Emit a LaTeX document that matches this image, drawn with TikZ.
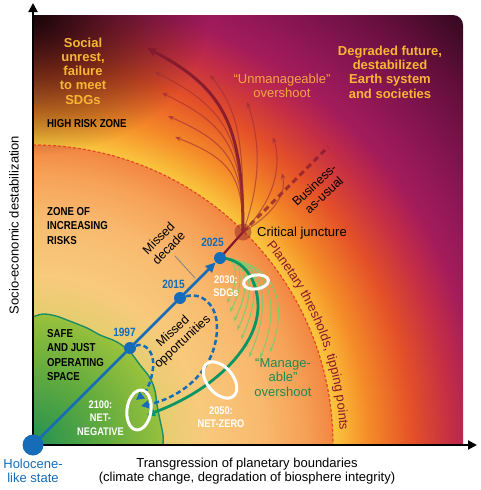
\documentclass[tikz,border=0pt]{standalone}
\usepackage{fontspec}
\setmainfont{Liberation Sans}
\newfontfamily\condf[FakeStretch=0.84]{Liberation Sans}
\usetikzlibrary{arrows.meta,decorations.text,fadings,shapes.geometric}

\definecolor{blueC}{RGB}{22,108,182}
\definecolor{yellowL}{RGB}{247,182,54}
\definecolor{unmC}{RGB}{243,165,70}
\definecolor{manC}{RGB}{30,140,80}
\definecolor{plC}{RGB}{140,22,45}
\definecolor{redfan}{RGB}{160,45,55}
\definecolor{redthick}{RGB}{130,25,45}
\definecolor{gthickC}{RGB}{10,150,100}
\definecolor{gthinC}{RGB}{135,200,110}
\definecolor{gbound}{RGB}{30,140,100}
\definecolor{arcC}{RGB}{228,72,40}
\definecolor{vigc}{RGB}{25,5,8}
\definecolor{cjC}{RGB}{150,40,40}

\definecolor{o1}{RGB}{250,198,62}
\definecolor{o2}{RGB}{245,140,40}
\definecolor{o3}{RGB}{228,80,40}
\definecolor{o4}{RGB}{195,45,70}
\definecolor{o5}{RGB}{165,28,90}
\definecolor{o6}{RGB}{140,22,85}
\definecolor{o7}{RGB}{100,15,60}
\definecolor{o8}{RGB}{50,8,30}
\pgfdeclareradialshading{outsh}{\pgfpointorigin}{color(0bp)=(o1); color(12.1bp)=(o1); color(13.5bp)=(o2); color(15.3bp)=(o3); color(16.9bp)=(o4); color(18.1bp)=(o5); color(19.75bp)=(o6); color(22.2bp)=(o7); color(24.6bp)=(o8); color(50bp)=(o8)}

\definecolor{i0}{RGB}{175,200,80}
\definecolor{i1}{RGB}{214,208,102}
\definecolor{i2}{RGB}{248,202,124}
\definecolor{i3}{RGB}{248,185,110}
\definecolor{i4}{RGB}{246,162,88}
\definecolor{i5}{RGB}{242,135,65}
\pgfdeclareradialshading{insh}{\pgfpointorigin}{color(0bp)=(i0); color(8.3bp)=(i1); color(14.2bp)=(i2); color(19.2bp)=(i3); color(22.5bp)=(i4); color(25bp)=(i5); color(50bp)=(i5)}

\definecolor{g0}{RGB}{35,145,80}
\definecolor{g1}{RGB}{100,172,62}
\definecolor{g2}{RGB}{170,200,60}
\pgfdeclareradialshading{grsh}{\pgfpointorigin}{color(0bp)=(g0); color(12.5bp)=(g1); color(25bp)=(g2); color(50bp)=(g2)}

\tikzfading[name=vig, inner color=transparent!0, outer color=transparent!100]

\pgfdeclarelayer{back}
\pgfdeclarelayer{mid}
\pgfsetlayers{back,mid,main}

\begin{document}
\begin{tikzpicture}[x=1pt,y=-1pt,
  bdot/.style={circle, fill=blueC, inner sep=0pt, minimum size=12pt},
  cjdot/.style={circle, fill=cjC, fill opacity=0.5, inner sep=0pt, minimum size=17pt},
  ring/.style={ellipse, draw=white, line width=3pt, inner sep=0pt},
  axisl/.style={line width=2pt, black, -{Triangle[length=9pt,width=9pt]}},
  bline/.style={blueC, line width=2.5pt},
  bdash/.style={blueC, line width=2.5pt, dash pattern=on 5pt off 3pt, -{Triangle[length=8pt,width=8pt]}},
  gthick/.style={gthickC, line width=2.8pt, -{Triangle[length=8pt,width=8pt]}},
  gthin/.style={gthinC, line width=1pt, -{Stealth[length=5pt,width=4pt]}},
  fanthin/.style={redfan, opacity=0.6, line width=1.1pt, -{Stealth[length=6pt,width=5pt]}},
  fanthick/.style={redthick, opacity=0.9, line width=3pt, -{Stealth[length=10pt,width=9pt]}},
  redl/.style={redthick, line width=2.2pt},
  baul/.style={redthick, opacity=0.7, line width=3pt, dash pattern=on 6pt off 4pt},
  arcl/.style={arcC, line width=1.2pt, dash pattern=on 3pt off 2pt},
  leader/.style={gray, line width=0.8pt},
  ylab/.style={text=yellowL, font=\bfseries\fontsize{13}{14.3}\selectfont, align=center, inner sep=0pt},
  blk/.style={font=\condf\bfseries\fontsize{11.5}{14.3}\selectfont, align=left, anchor=west, inner sep=0pt},
  wht/.style={text=white, font=\condf\bfseries\fontsize{11}{13.5}\selectfont, align=center, inner sep=0pt},
  yr/.style={text=blueC, font=\condf\bfseries\fontsize{12}{14}\selectfont, inner sep=0pt},
  plain/.style={font=\fontsize{13}{14.5}\selectfont, align=center, inner sep=0pt},
  small/.style={font=\fontsize{12.5}{14}\selectfont, align=center, inner sep=0pt}
]
\useasboundingbox (0,0) rectangle (480,490);

% ---------- background ----------
\begin{pgfonlayer}{back}
\begin{scope}
  \clip (33,445) -- (33,15) -- (453,15) arc[start angle=90,end angle=0,radius=10pt] -- (463,445) -- cycle;
  \shade[shading=outsh] (33,445) circle (620pt);
  \shade[shading=insh] (33,445) circle (300pt);
  \fill[vigc, path fading=vig] (33,15) ellipse (175pt and 140pt);
  \begin{scope}
    \clip (33,446) -- plot[smooth,tension=0.6] coordinates {(33,317) (43,314) (56,316) (67,320) (87,328) (100,335) (117,342) (130,352) (140,365) (150,378) (155,391) (157,405) (160,420) (163,435) (163,446)} -- cycle;
    \shade[shading=grsh] (33,445) circle (150pt);
  \end{scope}
\end{scope}
\draw[gbound, line width=1.4pt] plot[smooth,tension=0.6] coordinates {(33,317) (43,314) (56,316) (67,320) (87,328) (100,335) (117,342) (130,352) (140,365) (150,378) (155,391) (157,405) (160,420) (163,435) (163,445)};
\draw[arcl] (33,445) ++(90:300pt) arc[start angle=90,end angle=0,radius=300pt];
\path[decorate, decoration={text along path, text color=plC,
   text={|\fontsize{13}{15}\selectfont|Planetary thresholds, tipping points}}]
   (33,445) ++(40.5:307pt) arc[start angle=40.5,end angle=0,radius=307pt];
\end{pgfonlayer}

% ---------- axes ----------
\coordinate (O) at (33,445);
\coordinate (ytop) at (33,3);
\coordinate (xend) at (477,445);
\draw[axisl] (O) -- (ytop);
\draw[axisl] (O) -- (xend);

% ---------- dots ----------
\node[bdot, minimum size=21pt] (hol) at (33,445) {};
\node[bdot] (d97) at (130,348) {};
\node[bdot] (d15) at (180,298) {};
\node[bdot] (d25) at (220,258) {};
\node[cjdot] (cj) at (243,232) {};

% rings
\node[ring, minimum width=24pt, minimum height=40pt, rotate=-8] (r2100) at (139,410) {};
\node[ring, minimum width=26pt, minimum height=42pt, rotate=40] (r2050) at (220,380) {};
\node[ring, minimum width=25pt, minimum height=14pt, rotate=8] (r2030) at (256,282) {};

% ---------- trajectories ----------
\begin{pgfonlayer}{mid}
\draw[bline] (hol.center) -- (d15.center);
\draw[bline, -{Triangle[length=10pt,width=9pt]}] (d15.center) -- (d25);
\draw[redl] (d25.center) -- (cj.center);
\coordinate (baue) at (328,147);
\draw[baul] (cj.center) -- (baue);

% red fan
\coordinate (f0) at (147,48);
\draw[fanthick] (cj.center) .. controls (243,125) and (224,88) .. (f0);
\foreach \i/\ex/\ey/\ax/\ay/\bx/\by in {1/155/72/243/136/225/107, 2/162/93/243/149/227/124, 3/168/116/243/162/228/142, 4/175/137/243/175/229/158, 5/210/75/244/140/238/110, 6/247/102/262/180/260/140, 7/273/137/275/200/282/165, 8/282/173/272/215/287/195}{
  \coordinate (f\i) at (\ex,\ey);
  \draw[fanthin] (cj.center) .. controls (\ax,\ay) and (\bx,\by) .. (f\i);
}

% green fan
\foreach \i/\ex/\ey/\ax/\ay/\bx/\by in {0/227/303/240/256/238/282, 1/230/312/245/256/244/285, 2/234/321/250/256/250/290, 3/237/330/255/257/255/295, 4/241/339/260/258/260/300, 5/245/348/265/258/265/305, 6/249/357/270/259/270/310, 7/260/358/278/260/278/315, 8/270/352/285/262/285/315}{
  \coordinate (g\i) at (\ex,\ey);
  \draw[gthin] (d25.center) .. controls (\ax,\ay) and (\bx,\by) .. (g\i);
}
\coordinate (g2100) at (147,415);
\draw[gthick] (d25.center) .. controls (240,258) and (257,275) .. (258,305) .. controls (259,345) and (215,390) .. (g2100);

% blue dashed loops
\coordinate (b1) at (141,406);
\coordinate (b2) at (136,400);
\draw[bdash] (d15) .. controls (200,292) and (218,303) .. (217,330) .. controls (215,372) and (180,398) .. (b1);
\draw[bdash] (d97) .. controls (145,342) and (155,352) .. (153,368) .. controls (151,385) and (145,393) .. (b2);

\coordinate (ld1) at (175,256);
\coordinate (ld2) at (195,278);
\draw[leader] (ld1) -- (ld2);
\end{pgfonlayer}

% ---------- labels ----------
\node[ylab] (social) at (83,71) {Social\\unrest,\\failure\\to meet\\SDGs};
\node[ylab] (degr) at (390,72) {Degraded future,\\destabilized\\Earth system\\and societies};
\node[plain, text=unmC] (unm) at (282,86) {“Unmanageable”\\overshoot};
\node[blk] (high) at (47,124) {HIGH RISK ZONE};
\node[blk] (zoi) at (47,226) {ZONE OF\\INCREASING\\RISKS};
\node[blk] (safe) at (47,355) {SAFE\\AND JUST\\OPERATING\\SPACE};
\node[plain, anchor=west] (cjl) at (257,233) {Critical juncture};
\node[yr] (l25) at (212.5,242) {2025};
\node[yr] (l15) at (173.5,284) {2015};
\node[yr] (l97) at (124.5,332.5) {1997};
\node[wht] (w30) at (226,286) {2030:\\SDGs};
\node[wht] (w50) at (221,417) {2050:\\NET-ZERO};
\node[wht] (w21) at (100.5,418) {2100:\\NET-\\NEGATIVE};
\node[small, rotate=46] (md) at (163.5,243) {Missed\\decade};
\node[small, rotate=43] (mo) at (178,337) {Missed\\opportunities};
\node[plain, text=manC] (man) at (283,377.5) {“Manage-\\able”\\overshoot};
\node[small, rotate=43] (bau) at (319,190) {Business-\\as-usual};
\node[plain, text=blueC] (holl) at (33,471) {Holocene-\\like state};
\node[plain] (xl) at (247,471) {Transgression of planetary boundaries\\(climate change, degradation of biosphere integrity)};
\node[plain, rotate=90] (yl) at (14,225) {Socio-economic destabilization};
\end{tikzpicture}
\end{document}
